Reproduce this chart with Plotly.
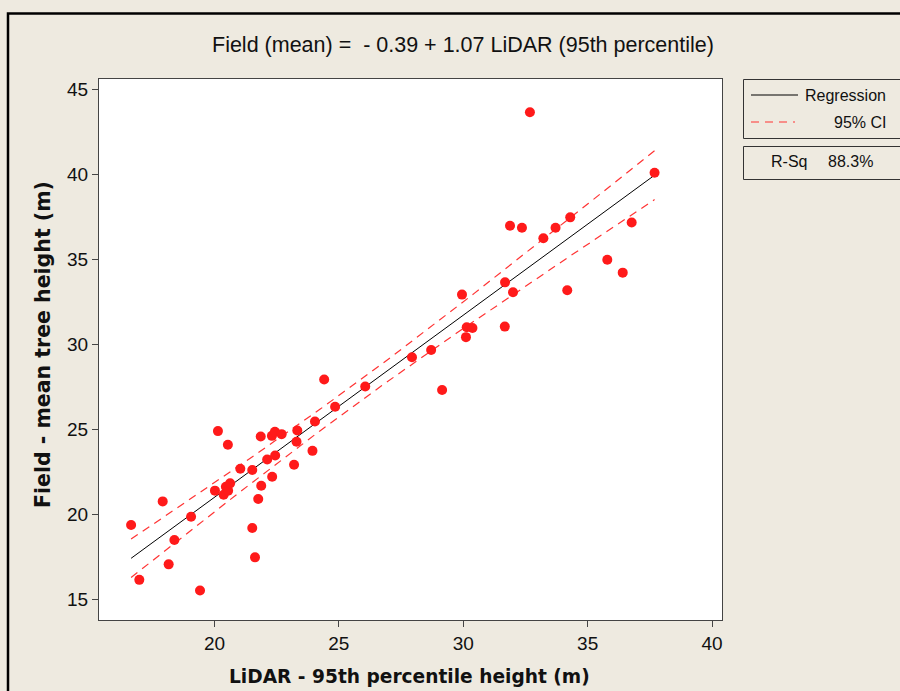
import numpy as np
import plotly.graph_objects as go

# LiDAR 95th percentile height (m)
lidar = [16.65, 16.98, 17.92, 18.16, 18.39, 19.06, 19.42, 20.14, 20.54, 20.02,
         20.37, 20.46, 20.55, 20.63, 21.04, 21.52, 21.52, 21.63, 21.76, 21.88,
         21.86, 22.31, 22.43, 22.70, 22.12, 22.44, 22.32, 23.20, 23.33, 23.30,
         23.94, 24.04, 24.85, 24.41, 26.06, 29.15, 27.94, 28.71, 29.95, 30.11,
         30.14, 30.37, 31.67, 31.68, 32.00, 32.68, 31.88, 32.36, 33.22, 33.71,
         34.30, 37.69, 36.77, 35.79, 36.41, 34.18]
# Field mean tree height (m)
field = [19.38, 16.16, 20.77, 17.07, 18.50, 19.87, 15.53, 24.90, 24.10, 21.40,
         21.16, 21.63, 21.40, 21.83, 22.69, 22.61, 19.21, 17.48, 20.91, 21.69,
         24.58, 24.62, 24.86, 24.72, 23.23, 23.47, 22.22, 22.92, 24.94, 24.27,
         23.74, 25.46, 26.33, 27.93, 27.52, 27.32, 29.24, 29.67, 32.92, 30.42,
         31.00, 30.96, 31.04, 33.64, 33.06, 43.64, 36.97, 36.85, 36.23, 36.85,
         37.46, 40.08, 37.16, 34.97, 34.21, 33.18]

intercept = -0.39
slope = 1.07
title_text = "Field (mean) =  - 0.39 + 1.07 LiDAR (95th percentile)"
x_title = "LiDAR - 95th percentile height (m)"
y_title = "Field - mean tree height (m)"
x_ticks = [20, 25, 30, 35, 40]
y_ticks = [15, 20, 25, 30, 35, 40, 45]
rsq_label = "88.3%"

# regression line and 95% CI of the fit
x = np.array(lidar)
y = np.array(field)
n = len(x)
xs = np.linspace(x.min(), x.max(), 120)
yfit = intercept + slope * xs
resid = y - (intercept + slope * x)
s = np.sqrt(np.sum(resid ** 2) / (n - 2))
sxx = np.sum((x - x.mean()) ** 2)
tval = 2.005
half = tval * s * np.sqrt(1.0 / n + (xs - x.mean()) ** 2 / sxx)

# plot area in pixels
W, H = 900, 691
L, R, T, B = 99, 722, 79, 620


def px(xp):
    return (xp - L) / (R - L)


def py(yp):
    return (B - yp) / (B - T)


RED = "#ff1a1a"
DASHRED = "#ff3333"
FONT = "Liberation Sans"
BOLDFONT = "DejaVu Sans"

fig = go.Figure()
fig.add_trace(go.Scatter(x=xs, y=yfit, mode="lines",
                         line=dict(color="black", width=1), hoverinfo="skip"))
fig.add_trace(go.Scatter(x=xs, y=yfit + half, mode="lines",
                         line=dict(color=DASHRED, width=1.2, dash="8px,6px"), hoverinfo="skip"))
fig.add_trace(go.Scatter(x=xs, y=yfit - half, mode="lines",
                         line=dict(color=DASHRED, width=1.2, dash="8px,6px"), hoverinfo="skip"))
fig.add_trace(go.Scatter(x=lidar, y=field, mode="markers",
                         marker=dict(color=RED, size=10, line=dict(width=0))))

axis_common = dict(showgrid=False, zeroline=False, showline=True, mirror=True,
                   linecolor="#444", linewidth=1, ticks="outside", ticklen=6,
                   tickcolor="#444", tickwidth=1,
                   tickfont=dict(family=FONT, size=19, color="#111"))

fig.update_xaxes(range=[15.36, 40.40], tickvals=x_ticks, **axis_common)
fig.update_yaxes(range=[13.80, 45.59], tickvals=y_ticks, **axis_common)

shapes = [
    # outer frame
    dict(type="rect", xref="paper", yref="paper", x0=px(8), x1=px(920), y0=py(13.5), y1=py(720),
         line=dict(color="black", width=2.5), layer="below"),
    # legend boxes
    dict(type="rect", xref="paper", yref="paper", x0=px(743.5), x1=px(915), y0=py(79.5), y1=py(138.5),
         line=dict(color="#333", width=1), fillcolor="#EEEAE0"),
    dict(type="rect", xref="paper", yref="paper", x0=px(743.5), x1=px(915), y0=py(146.5), y1=py(179.5),
         line=dict(color="#333", width=1), fillcolor="#EEEAE0"),
    dict(type="line", xref="paper", yref="paper", x0=px(751), x1=px(798), y0=py(95), y1=py(95),
         line=dict(color="black", width=1)),
    dict(type="line", xref="paper", yref="paper", x0=px(751), x1=px(795), y0=py(122), y1=py(122),
         line=dict(color=DASHRED, width=1.2, dash="8px,6px")),
]

annotations = [
    dict(text=title_text, xref="paper", yref="paper", x=px(463), y=py(45), showarrow=False,
         xanchor="center", yanchor="middle", font=dict(family=FONT, size=21.5, color="#111")),
    dict(text="<b>" + x_title + "</b>", xref="paper", yref="paper", x=px(409), y=py(676),
         showarrow=False, xanchor="center", yanchor="middle",
         font=dict(family=BOLDFONT, size=18.6, color="#111")),
    dict(text="<b>" + y_title + "</b>", xref="paper", yref="paper", x=px(43), y=py(345),
         showarrow=False, xanchor="center", yanchor="middle", textangle=-90,
         font=dict(family=BOLDFONT, size=20.5, color="#111")),
    dict(text="Regression", xref="paper", yref="paper", x=px(888), y=py(95), showarrow=False,
         xanchor="right", yanchor="middle", font=dict(family=FONT, size=16, color="#111")),
    dict(text="95% CI", xref="paper", yref="paper", x=px(888), y=py(122), showarrow=False,
         xanchor="right", yanchor="middle", font=dict(family=FONT, size=16, color="#111")),
    dict(text="R-Sq", xref="paper", yref="paper", x=px(769), y=py(161), showarrow=False,
         xanchor="left", yanchor="middle", font=dict(family=FONT, size=16, color="#111")),
    dict(text=rsq_label, xref="paper", yref="paper", x=px(826), y=py(161), showarrow=False,
         xanchor="left", yanchor="middle", font=dict(family=FONT, size=16, color="#111")),
]

fig.update_layout(
    width=W, height=H,
    margin=dict(l=L, r=W - R, t=T, b=H - B, pad=0),
    paper_bgcolor="#EEEAE0", plot_bgcolor="white",
    showlegend=False, shapes=shapes, annotations=annotations,
)

fig.write_html("out.html")
